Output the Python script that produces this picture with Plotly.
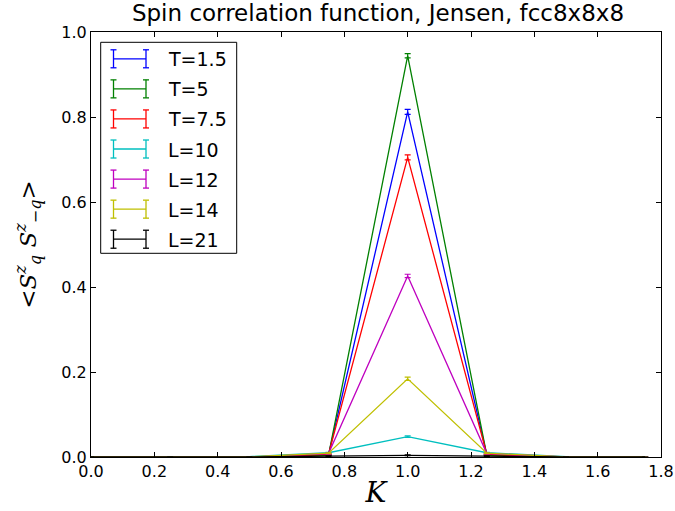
import plotly.graph_objects as go

K = [0.0, 0.25, 0.5, 0.75, 1.0, 1.25, 1.5, 1.75]

names = ["T=1.5", "T=5", "T=7.5", "L=10", "L=12", "L=14", "L=21"]
colors = ["#0000ff", "#008000", "#ff0000", "#00bfbf", "#bf00bf", "#bfbf00", "#000000"]

s_T15 = [0.0, 0.0, 0.0, 0.005, 0.812, 0.005, 0.0, 0.0]
s_T5 = [0.0, 0.0, 0.0, 0.004, 0.944, 0.004, 0.0, 0.0]
s_T75 = [0.0, 0.0, 0.0, 0.006, 0.705, 0.006, 0.0, 0.0]
s_L10 = [0.0, 0.0, 0.001, 0.010, 0.048, 0.010, 0.001, 0.0]
s_L12 = [0.0, 0.0, 0.0, 0.008, 0.426, 0.008, 0.0, 0.0]
s_L14 = [0.0, 0.0, 0.0, 0.009, 0.184, 0.009, 0.0, 0.0]
s_L21 = [0.0, 0.0, 0.0, 0.002, 0.004, 0.002, 0.0, 0.0]

e_T15 = [0, 0, 0, 0.001, 0.006, 0.001, 0, 0]
e_T5 = [0, 0, 0, 0.001, 0.005, 0.001, 0, 0]
e_T75 = [0, 0, 0, 0.001, 0.006, 0.001, 0, 0]
e_L10 = [0, 0, 0, 0.001, 0.002, 0.001, 0, 0]
e_L12 = [0, 0, 0, 0.001, 0.004, 0.001, 0, 0]
e_L14 = [0, 0, 0, 0.001, 0.004, 0.001, 0, 0]
e_L21 = [0, 0, 0, 0.0005, 0.001, 0.0005, 0, 0]

x_ticks = [0.0, 0.2, 0.4, 0.6, 0.8, 1.0, 1.2, 1.4, 1.6, 1.8]
y_ticks = [0.0, 0.2, 0.4, 0.6, 0.8, 1.0]

series = [s_T15, s_T5, s_T75, s_L10, s_L12, s_L14, s_L21]
errors = [e_T15, e_T5, e_T75, e_L10, e_L12, e_L14, e_L21]

W, H = 675, 511
ML, MR, MT, MB = 91, 14, 32, 54
PW, PH = W - ML - MR, H - MT - MB


def px(x):
    return (x - ML) / PW


def py(y):
    return (H - MB - y) / PH


fig = go.Figure()
for n, c, s, e in zip(names, colors, series, errors):
    fig.add_trace(go.Scatter(
        x=K, y=s, name=n, mode="lines", showlegend=False,
        line=dict(color=c, width=1.3),
        error_y=dict(type="data", array=e, visible=True, color=c, thickness=1.2, width=3),
    ))

# custom legend (matplotlib-style errorbar glyphs)
shapes = []
annotations = []
shapes.append(dict(type="rect", xref="paper", yref="paper",
                   x0=px(100.7), x1=px(236.7), y0=py(253.3), y1=py(42.3),
                   line=dict(color="black", width=1), fillcolor="white", layer="above"))
for i, (n, c) in enumerate(zip(names, colors)):
    yc = 58.8 + 30.07 * i
    xa, xb = 113.5, 146.0
    hh, sw = 9.0, 3.0
    segs = [
        (xa, yc, xb, yc),
        (xa, yc - hh, xa, yc + hh),
        (xb, yc - hh, xb, yc + hh),
        (xa - sw, yc - hh, xa + sw, yc - hh),
        (xa - sw, yc + hh, xa + sw, yc + hh),
        (xb - sw, yc - hh, xb + sw, yc - hh),
        (xb - sw, yc + hh, xb + sw, yc + hh),
    ]
    for (x0, y0, x1, y1) in segs:
        shapes.append(dict(type="line", xref="paper", yref="paper",
                           x0=px(x0), y0=py(y0), x1=px(x1), y1=py(y1),
                           line=dict(color=c, width=1.3), layer="above"))
    annotations.append(dict(text=n, xref="paper", yref="paper", x=px(166), y=py(yc + 0.5),
                            xanchor="left", yanchor="middle", showarrow=False,
                            font=dict(family="DejaVu Sans", size=19, color="black")))

font_main = "DejaVu Sans"
fig.update_layout(
    width=W, height=H,
    margin=dict(l=ML, r=MR, t=MT, b=MB, autoexpand=False),
    paper_bgcolor="white", plot_bgcolor="white",
    title=dict(text="Spin correlation function, Jensen, fcc8x8x8",
               font=dict(family=font_main, size=23, color="black"),
               x=0.56, xanchor="center", y=0.99, yanchor="top"),
    font=dict(family=font_main, size=16, color="black"),
    showlegend=False,
    shapes=shapes,
    annotations=annotations,
    xaxis=dict(range=[0, 1.8], tickvals=x_ticks,
               ticktext=[f"{v:.1f}" for v in x_ticks],
               ticks="inside", ticklen=5, tickcolor="black", mirror="allticks",
               showline=True, linecolor="black", linewidth=1, showgrid=False, zeroline=False,
               automargin=False, tickfont=dict(size=16),
               title=dict(text="<i>K</i>", font=dict(family="DejaVu Serif", size=28), standoff=2)),
    yaxis=dict(range=[0, 1.0], tickvals=y_ticks,
               ticktext=[f"{v:.1f}" for v in y_ticks],
               ticks="inside", ticklen=5, tickcolor="black", mirror="allticks",
               showline=True, linecolor="black", linewidth=1, showgrid=False, zeroline=False,
               automargin=False, tickfont=dict(size=16),
               title=dict(text="&lt;<i>S</i><sup><i>z</i></sup><sub><i>q</i></sub> <i>S</i><sup><i>z</i></sup><sub>−<i>q</i></sub>&gt;",
                          font=dict(family="DejaVu Serif", size=23), standoff=18)),
)

fig.write_html("out.html")
